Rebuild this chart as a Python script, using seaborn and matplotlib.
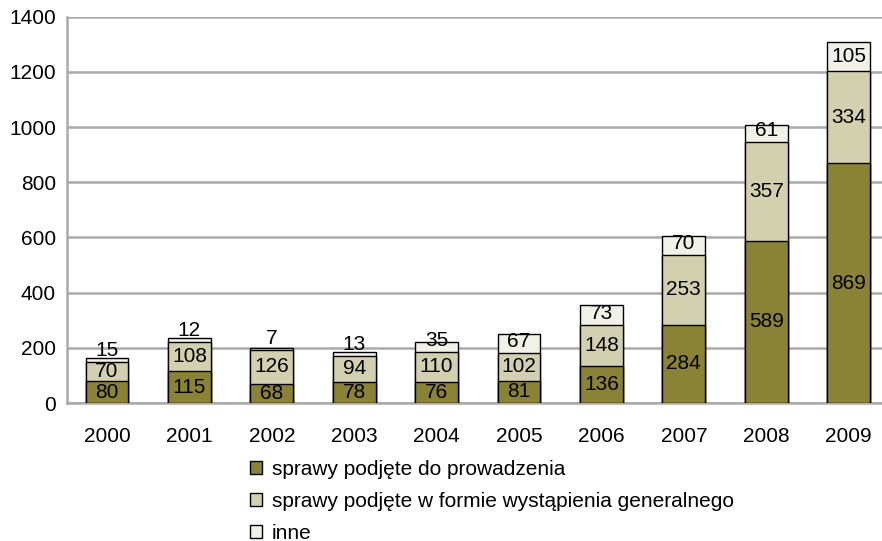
import numpy as np
import pandas as pd
import matplotlib
matplotlib.use('Agg')
import matplotlib.pyplot as plt
import seaborn as sns
from matplotlib.patches import Patch

years = ['2000', '2001', '2002', '2003', '2004', '2005', '2006', '2007', '2008', '2009']
prowadzenia = [80, 115, 68, 78, 76, 81, 136, 284, 589, 869]
wystapienia = [70, 108, 126, 94, 110, 102, 148, 253, 357, 334]
inne = [15, 12, 7, 13, 35, 67, 73, 70, 61, 105]

series_names = ['sprawy podjęte do prowadzenia',
                'sprawy podjęte w formie wystąpienia generalnego',
                'inne']
colors = ['#8a8234', '#d3d0b0', '#f1f1e8']

df = pd.DataFrame({'rok': years, 'a': prowadzenia, 'b': wystapienia, 'c': inne})
df['ab'] = df['a'] + df['b']
df['abc'] = df['ab'] + df['c']

sns.set_style('white')
plt.rcParams['font.family'] = ['Liberation Sans', 'DejaVu Sans']
plt.rcParams['text.color'] = 'black'
plt.rcParams['xtick.color'] = 'black'
plt.rcParams['ytick.color'] = 'black'
fs = 15

fig = plt.figure(figsize=(8.82, 5.41), dpi=100)
ax = fig.add_axes([0.076, 0.255, 0.924, 0.714])

width = 0.52
# draw the stacks from the top down so each layer covers the one above
for col, c in zip(['abc', 'ab', 'a'], colors[::-1]):
    sns.barplot(data=df, x='rok', y=col, color=c, width=width,
                edgecolor='black', linewidth=1.0, saturation=1, ax=ax, zorder=3)

# segment labels
for i in range(len(years)):
    a, b, c = prowadzenia[i], wystapienia[i], inne[i]
    ax.text(i, a / 2, str(a), ha='center', va='center', fontsize=fs, zorder=5)
    ax.text(i, a + b / 2, str(b), ha='center', va='center', fontsize=fs, zorder=5)
    y_top = max(a + b + c / 2, a + b + 40)
    ax.text(i, y_top, str(c), ha='center', va='center', fontsize=fs, zorder=5)

ax.set_ylim(0, 1400)
ax.set_xlim(-0.485, 9.405)
ax.set_yticks(np.arange(0, 1401, 200))
ax.yaxis.grid(True, color='#aaaaaa', linewidth=1.8, zorder=0)
ax.set_axisbelow(True)
ax.set_xlabel('')
ax.set_ylabel('')
ax.tick_params(axis='both', length=0, labelsize=fs)
ax.tick_params(axis='x', pad=17)
ax.tick_params(axis='y', pad=8)

for s in ['top', 'right']:
    ax.spines[s].set_visible(False)
ax.spines['left'].set_color('#aaaaaa')
ax.spines['left'].set_linewidth(1.8)
ax.spines['bottom'].set_color('#aaaaaa')
ax.spines['bottom'].set_linewidth(1.8)

handles = [Patch(facecolor=c, edgecolor='black', linewidth=1.0) for c in colors]
fig.legend(handles, series_names, loc='upper left', bbox_to_anchor=(0.283, 0.150),
           bbox_transform=fig.transFigure, frameon=False, fontsize=fs,
           handlelength=0.58, handleheight=0.58, handletextpad=0.5,
           labelspacing=0.62, borderpad=0, borderaxespad=0)

fig.savefig('out.png', dpi=100)
